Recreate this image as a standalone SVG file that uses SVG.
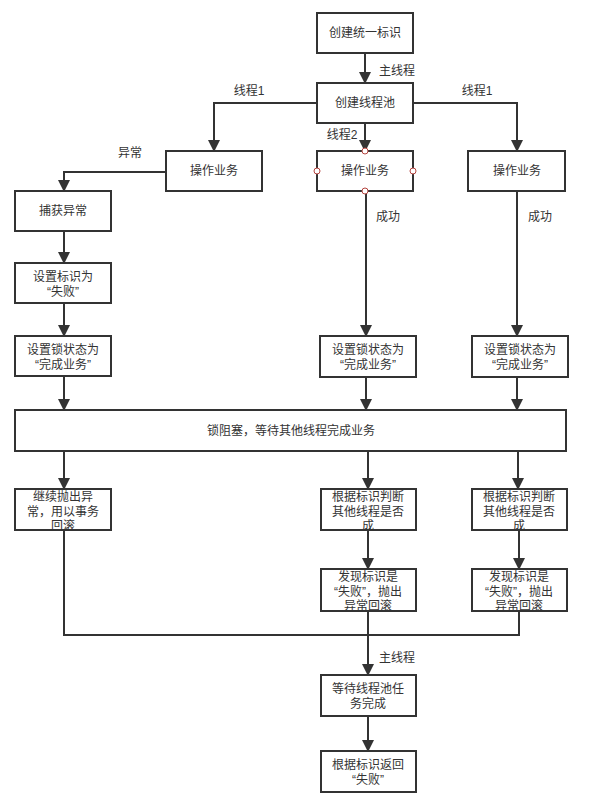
<svg xmlns="http://www.w3.org/2000/svg" width="600" height="800" viewBox="0 0 600 800">
<style>
.box{fill:#fff;stroke:#333;stroke-width:2}
.t{font-family:"Liberation Sans","Noto Sans CJK SC",sans-serif;font-size:12px;fill:#333;text-anchor:middle}
.l{font-family:"Liberation Sans","Noto Sans CJK SC",sans-serif;font-size:12px;fill:#333}
.c{fill:none;stroke:#333;stroke-width:2}
.pt{fill:#fff;stroke:#b5443f;stroke-width:1}
</style>
<defs>
<marker id="ah" markerUnits="userSpaceOnUse" markerWidth="12" markerHeight="14" refX="11" refY="6" orient="auto">
<path d="M0,0 L12,6 L0,12 Z" fill="#333"/>
</marker>
</defs>
<rect width="600" height="800" fill="#fff"/>
<g id="connectors">
<path class="c" d="M365,53 V83" marker-end="url(#ah)"/>
<path class="c" d="M317,103 H214 V151" marker-end="url(#ah)"/>
<path class="c" d="M413,103 H517 V151" marker-end="url(#ah)"/>
<path class="c" d="M365,123 V151" marker-end="url(#ah)"/>
<path class="c" d="M166,172 H64 V191" marker-end="url(#ah)"/>
<path class="c" d="M64,231 V263" marker-end="url(#ah)"/>
<path class="c" d="M64,303 V336" marker-end="url(#ah)"/>
<path class="c" d="M366,191 V336" marker-end="url(#ah)"/>
<path class="c" d="M517,191 V336" marker-end="url(#ah)"/>
<path class="c" d="M64,376 V410" marker-end="url(#ah)"/>
<path class="c" d="M366,377 V410" marker-end="url(#ah)"/>
<path class="c" d="M517,377 V410" marker-end="url(#ah)"/>
<path class="c" d="M64,451 V489" marker-end="url(#ah)"/>
<path class="c" d="M368,451 V489" marker-end="url(#ah)"/>
<path class="c" d="M518,451 V489" marker-end="url(#ah)"/>
<path class="c" d="M368,530 V569" marker-end="url(#ah)"/>
<path class="c" d="M519,530 V569" marker-end="url(#ah)"/>
<path class="c" d="M64,530 V635 H368"/>
<path class="c" d="M519,611 V635 H368"/>
<path class="c" d="M368,611 V675" marker-end="url(#ah)"/>
<path class="c" d="M368,716 V751" marker-end="url(#ah)"/>
<text class="l" x="379" y="75">主线程</text>
<text class="t" x="249" y="95">线程1</text>
<text class="t" x="477" y="95">线程1</text>
<text class="t" x="342" y="139">线程2</text>
<text class="t" x="130" y="157">异常</text>
<text class="l" x="376" y="221">成功</text>
<text class="l" x="528" y="221">成功</text>
<text class="l" x="379" y="662">主线程</text>
</g>
<g id="n1"><rect class="box" x="317" y="13" width="96" height="40"/><text class="t" x="365" y="37">创建统一标识</text></g>
<g id="n2"><rect class="box" x="317" y="83" width="96" height="40"/><text class="t" x="365" y="107">创建线程池</text></g>
<g id="n3"><rect class="box" x="166" y="151" width="96" height="40"/><text class="t" x="214" y="175">操作业务</text></g>
<g id="n4"><rect class="box" x="317" y="151" width="96" height="40"/><text class="t" x="365" y="175">操作业务</text>
<circle class="pt" cx="365" cy="151" r="3"/><circle class="pt" cx="365" cy="191" r="3"/><circle class="pt" cx="317" cy="171" r="3"/><circle class="pt" cx="413" cy="171" r="3"/></g>
<g id="n5"><rect class="box" x="468" y="151" width="97" height="40"/><text class="t" x="517" y="175">操作业务</text></g>
<g id="n6"><rect class="box" x="15" y="191" width="96" height="40"/><text class="t" x="63" y="215">捕获异常</text></g>
<g id="n7"><rect class="box" x="15" y="263" width="96" height="40"/><text class="t" x="63" y="281">设置标识为</text><text class="t" x="63" y="296">“失败”</text></g>
<g id="n8"><rect class="box" x="15" y="336" width="96" height="40"/><text class="t" x="63" y="354">设置锁状态为</text><text class="t" x="63" y="369">“完成业务”</text></g>
<g id="n9"><rect class="box" x="320" y="336" width="96" height="41"/><text class="t" x="368" y="354">设置锁状态为</text><text class="t" x="368" y="369">“完成业务”</text></g>
<g id="n10"><rect class="box" x="472" y="336" width="96" height="41"/><text class="t" x="520" y="354">设置锁状态为</text><text class="t" x="520" y="369">“完成业务”</text></g>
<g id="n11"><rect class="box" x="15" y="410" width="551" height="41"/><text class="t" x="291" y="435">锁阻塞，等待其他线程完成业务</text></g>
<g id="n12"><rect class="box" x="15" y="489" width="96" height="41"/><text class="t" x="63" y="501">继续抛出异</text><text class="t" x="63" y="516">常，用以事务</text><text class="t" x="63" y="530">回滚</text></g>
<g id="n13"><rect class="box" x="321" y="489" width="95" height="41"/><text class="t" x="368" y="501">根据标识判断</text><text class="t" x="368" y="516">其他线程是否</text><text class="t" x="368" y="530">成</text></g>
<g id="n14"><rect class="box" x="472" y="489" width="95" height="41"/><text class="t" x="519" y="501">根据标识判断</text><text class="t" x="519" y="516">其他线程是否</text><text class="t" x="519" y="530">成</text></g>
<g id="n15"><rect class="box" x="321" y="569" width="95" height="42"/><text class="t" x="368" y="581">发现标识是</text><text class="t" x="368" y="596">“失败”，抛出</text><text class="t" x="368" y="610">异常回滚</text></g>
<g id="n16"><rect class="box" x="472" y="569" width="95" height="42"/><text class="t" x="519" y="581">发现标识是</text><text class="t" x="519" y="596">“失败”，抛出</text><text class="t" x="519" y="610">异常回滚</text></g>
<g id="n17"><rect class="box" x="321" y="675" width="95" height="41"/><text class="t" x="368" y="693">等待线程池任</text><text class="t" x="368" y="708">务完成</text></g>
<g id="n18"><rect class="box" x="321" y="751" width="95" height="41"/><text class="t" x="368" y="769">根据标识返回</text><text class="t" x="368" y="784">“失败”</text></g>
</svg>
